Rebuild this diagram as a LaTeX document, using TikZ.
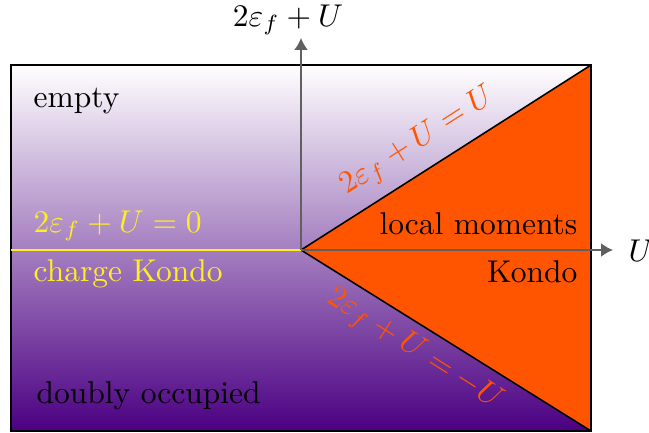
\documentclass[tikz,border=0pt]{standalone}
\usetikzlibrary{arrows.meta}
\definecolor{kondoorange}{HTML}{FF5500}
\definecolor{deepindigo}{HTML}{4B0082}
\definecolor{axisgray}{HTML}{606060}
\definecolor{ylw}{HTML}{FFEE22}
\begin{document}
\begin{tikzpicture}[x=0.3175pt,y=-0.3175pt,
  axisline/.style={draw=axisgray,line width=0.5pt,-{Latex[length=3.8pt,width=4.4pt]}},
  lbl/.style={inner sep=0pt},
  ylbl/.style={inner sep=0pt,text=ylw},
  olbl/.style={inner sep=0pt,text=kondoorange}]
\useasboundingbox (0,0) rectangle (649,432);
% background gradient
\shade[top color=white,bottom color=deepindigo] (11,65) rectangle (591,431);
% coordinates
\coordinate (o) at (301,250);
\coordinate (tr) at (591,65);
\coordinate (br) at (591,431);
% triangle
\fill[kondoorange] (o) -- (tr) -- (br) -- cycle;
\draw[line width=0.5pt] (o) -- (tr);
\draw[line width=0.5pt] (o) -- (br);
% border
\draw[line width=0.5pt] (11,65) rectangle (591,431);
% yellow line
\coordinate (yl) at (11,250);
\draw[ylw,line width=0.9pt] (yl) -- (o);
% axes
\coordinate (ytip) at (301,38);
\coordinate (xtip) at (613,250);
\draw[axisline] (o) -- (ytip);
\draw[axisline] (o) -- (xtip);
\node[lbl] (ylab) at (288,20) {$2\varepsilon_f+U$};
\node[lbl,anchor=west] (xlab) at (628,251) {$U$};
% labels
\node[lbl,anchor=west] (empty) at (33,101) {empty};
\node[ylbl,anchor=west] (zero) at (33,226) {$2\varepsilon_f+U=0$};
\node[ylbl,anchor=west] (ck) at (33,274) {charge Kondo};
\node[lbl,anchor=west] (doc) at (36,396) {doubly occupied};
\node[lbl,anchor=east] (lm) at (578,224) {local moments};
\node[lbl,anchor=east] (kondo) at (578,272) {Kondo};
\node[olbl,rotate=32.5] (upl) at (418,142) {$2\varepsilon_f+U=U$};
\node[olbl,rotate=-32.5] (lol) at (414,350) {$2\varepsilon_f+U=-U$};
\end{tikzpicture}
\end{document}
